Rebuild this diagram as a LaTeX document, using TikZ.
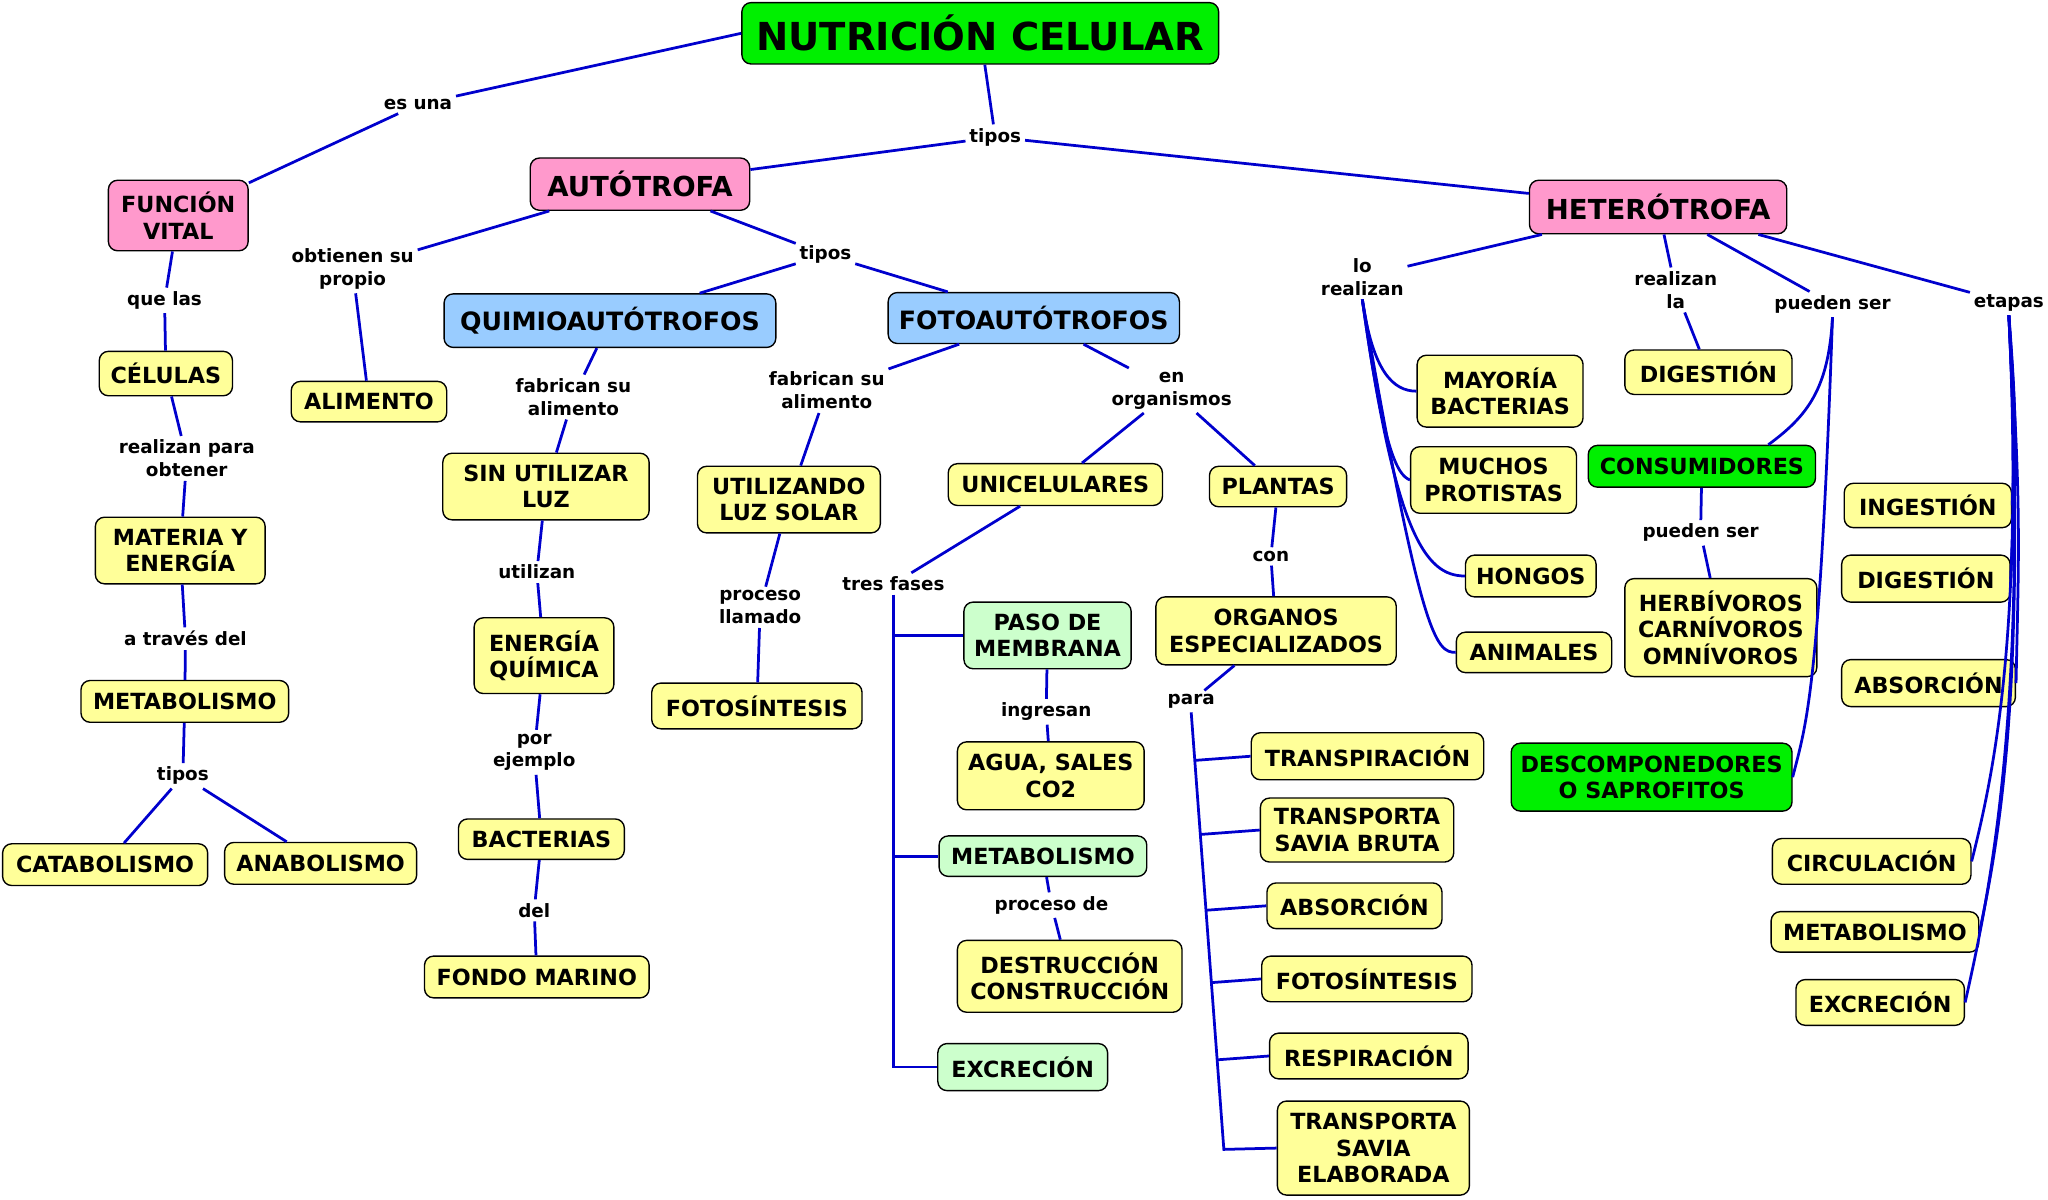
\documentclass[tikz,border=0pt]{standalone}
\usepackage{fontspec}
\setmainfont{DejaVu Sans}
\usetikzlibrary{calc}
\definecolor{mapblue}{RGB}{0,0,205}
\definecolor{myyellow}{RGB}{255,255,153}
\definecolor{mypink}{RGB}{255,153,204}
\definecolor{mysky}{RGB}{153,204,255}
\definecolor{mymint}{RGB}{204,255,204}
\definecolor{mygreen}{RGB}{0,240,0}
\tikzset{
  box/.style={draw=black,line width=0.6pt,rounded corners=4pt,align=center,inner sep=0pt,
    font=\bfseries\fontsize{9.7}{11.5}\selectfont},
  ybox/.style={box,fill=myyellow},
  pbox/.style={box,fill=mypink,font=\bfseries\fontsize{12}{14}\selectfont},
  bbox/.style={box,fill=mysky,font=\bfseries\fontsize{11}{13}\selectfont},
  mbox/.style={box,fill=mymint},
  gbox/.style={box,fill=mygreen},
  sz/.style 2 args={minimum width=#1*0.02cm,minimum height=#2*0.02cm},
  lbl/.style={inner sep=1.5pt,align=center,font=\bfseries\fontsize{8}{10}\selectfont},
  link/.style={draw=mapblue,line width=1.2pt}
}
\begin{document}
\begin{tikzpicture}[x=0.02cm,y=-0.02cm]
    \useasboundingbox (0,0) rectangle (1568,918);

    % Main concept
    \node[gbox,sz={365}{47},font=\bfseries\fontsize{16.8}{19}\selectfont] (title) at (750.5,25.5) {NUTRICIÓN CELULAR};
    \node[pbox,sz={107}{54},font=\bfseries\fontsize{9.7}{11.5}\selectfont] (funcion) at (136.5,165) {FUNCIÓN\\VITAL};
    \node[pbox,sz={168}{40}] (autotrofa) at (490,141) {AUTÓTROFA};
    \node[pbox,sz={197}{41}] (heterotrofa) at (1269.5,158.5) {HETERÓTROFA};
    \node[bbox,sz={254}{41}] (quimio) at (467,245.5) {QUIMIOAUTÓTROFOS};
    \node[bbox,sz={223}{39}] (foto) at (791.5,243.5) {FOTOAUTÓTROFOS};

    % Left branch
    \node[ybox,sz={102}{34}] (celulas) at (127,286) {CÉLULAS};
    \node[ybox,sz={119}{31}] (alimento) at (282.5,307.5) {ALIMENTO};
    \node[ybox,sz={130}{51}] (materia) at (138,421.5) {MATERIA Y\\ENERGÍA};
    \node[ybox,sz={159}{32}] (metab1) at (141.5,537) {METABOLISMO};
    \node[ybox,sz={157}{32}] (catab) at (80.5,662) {CATABOLISMO};
    \node[ybox,sz={147}{32}] (anab) at (245.5,661) {ANABOLISMO};

    % Quimioautotrofos
    \node[ybox,sz={158}{51}] (sinutil) at (418,372.5) {SIN UTILIZAR\\LUZ};
    \node[ybox,sz={107}{58}] (energia) at (416.5,502) {ENERGÍA\\QUÍMICA};
    \node[ybox,sz={127}{31}] (bacterias) at (414.5,642.5) {BACTERIAS};
    \node[ybox,sz={172}{32}] (fondo) at (411,748) {FONDO MARINO};

    % Fotoautotrofos
    \node[ybox,sz={140}{51}] (utilizando) at (604,382.5) {UTILIZANDO\\LUZ SOLAR};
    \node[ybox,sz={161}{35}] (fotosint1) at (579.5,540.5) {FOTOSÍNTESIS};
    \node[ybox,sz={164}{32}] (unicel) at (808,371) {UNICELULARES};
    \node[ybox,sz={105}{31}] (plantas) at (978.5,372.5) {PLANTAS};
    \node[mbox,sz={128}{51}] (paso) at (802,486.5) {PASO DE\\MEMBRANA};
    \node[ybox,sz={143}{52}] (agua) at (804.5,594) {AGUA, SALES\\CO2};
    \node[mbox,sz={159}{31}] (metab2) at (798.5,655.5) {METABOLISMO};
    \node[ybox,sz={172}{55}] (destr) at (819,747.5) {DESTRUCCIÓN\\CONSTRUCCIÓN};
    \node[mbox,sz={130}{36}] (excr1) at (783,817) {EXCRECIÓN};
    \node[ybox,sz={184}{52}] (organos) at (977,483) {ORGANOS\\ESPECIALIZADOS};
    \node[ybox,sz={178}{36}] (transpir) at (1047,579) {TRANSPIRACIÓN};
    \node[ybox,sz={148}{49}] (savbruta) at (1039,635.5) {TRANSPORTA\\SAVIA BRUTA};
    \node[ybox,sz={134}{35}] (absorc1) at (1037,693.5) {ABSORCIÓN};
    \node[ybox,sz={161}{35}] (fotosint2) at (1046.5,749.5) {FOTOSÍNTESIS};
    \node[ybox,sz={152}{35}] (respir) at (1048,808.5) {RESPIRACIÓN};
    \node[ybox,sz={147}{72}] (savelab) at (1051.5,879) {TRANSPORTA\\SAVIA\\ELABORADA};

    % Heterotrofa
    \node[ybox,sz={127}{55}] (mayoria) at (1148.5,299.5) {MAYORÍA\\BACTERIAS};
    \node[ybox,sz={127}{51}] (muchos) at (1143.5,367.5) {MUCHOS\\PROTISTAS};
    \node[ybox,sz={100}{32}] (hongos) at (1172,441) {HONGOS};
    \node[ybox,sz={119}{31}] (animales) at (1174.5,499.5) {ANIMALES};
    \node[ybox,sz={128}{34}] (digest1) at (1308,285) {DIGESTIÓN};
    \node[gbox,sz={174}{32}] (consum) at (1303,357) {CONSUMIDORES};
    \node[ybox,sz={147}{75}] (herb) at (1317.5,480.5) {HERBÍVOROS\\CARNÍVOROS\\OMNÍVOROS};
    \node[gbox,sz={215}{52}] (descomp) at (1264.5,595) {DESCOMPONEDORES\\O SAPROFITOS};
    \node[ybox,sz={128}{34}] (ingest) at (1476,387) {INGESTIÓN};
    \node[ybox,sz={129}{36}] (digest2) at (1474.5,443) {DIGESTIÓN};
    \node[ybox,sz={133}{36}] (absorc2) at (1476.5,523) {ABSORCIÓN};
    \node[ybox,sz={152}{35}] (circul) at (1433,659.5) {CIRCULACIÓN};
    \node[ybox,sz={159}{31}] (metab3) at (1435.5,713.5) {METABOLISMO};
    \node[ybox,sz={129}{35}] (excr2) at (1439.5,767.5) {EXCRECIÓN};

    % Linking words
    \node[lbl] (esuna) at (320,80) {es una};
    \node[lbl] (tipos1) at (762,105) {tipos};
    \node[lbl] (quelas) at (126,230) {que las};
    \node[lbl] (realizan) at (143,351) {realizan para\\obtener};
    \node[lbl] (atraves) at (142,489) {a través del};
    \node[lbl] (tipos2) at (140,594) {tipos};
    \node[lbl] (obtienen) at (270,206) {obtienen su\\propio};
    \node[lbl] (tipos3) at (632,195) {tipos};
    \node[lbl] (fabrican1) at (439,304) {fabrican su\\alimento};
    \node[lbl] (utilizan) at (411,438) {utilizan};
    \node[lbl] (porejemplo) at (409,576) {por\\ejemplo};
    \node[lbl] (del) at (409,697) {del};
    \node[lbl] (fabrican2) at (633,299) {fabrican su\\alimento};
    \node[lbl] (procesoll) at (582,465) {proceso\\llamado};
    \node[lbl] (enorg) at (897,299) {en\\organismos};
    \node[lbl] (tresfases) at (684,447) {tres fases};
    \node[lbl] (ingresan) at (801,545) {ingresan};
    \node[lbl] (procesode) at (805,693) {proceso de};
    \node[lbl] (con) at (973,426) {con};
    \node[lbl] (para) at (912,537) {para};
    \node[lbl] (lorealizan) at (1043,212) {lo\\realizan};
    \node[lbl] (realizanla) at (1283,222) {realizan\\la};
    \node[lbl] (puedenser1) at (1403,233) {pueden ser};
    \node[lbl] (etapas) at (1538,232) {etapas};
    \node[lbl] (puedenser2) at (1302,408) {pueden ser};

    % Connectors, top levels
    \draw[link] (title.west) -- (esuna) -- (funcion);
    \draw[link] (title) -- (tipos1);
    \draw[link] (tipos1) -- (autotrofa);
    \draw[link] (tipos1) -- (heterotrofa);

    % Funcion vital
    \draw[link] (funcion) -- (quelas) -- (celulas) -- (realizan) -- (materia) -- (atraves) -- (metab1) -- (tipos2);
    \draw[link] (tipos2) -- (catab);
    \draw[link] (tipos2) -- (anab);

    % Autotrofa
    \draw[link] (autotrofa) -- (obtienen) -- (alimento);
    \draw[link] (autotrofa) -- (tipos3);
    \draw[link] (tipos3) -- (quimio);
    \draw[link] (tipos3) -- (foto);
    \draw[link] (quimio) -- (fabrican1) -- (sinutil) -- (utilizan) -- (energia) -- (porejemplo) -- (bacterias) -- (del) -- (fondo);
    \draw[link] (foto) -- (fabrican2) -- (utilizando) -- (procesoll) -- (fotosint1);
    \draw[link] (foto) -- (enorg);
    \draw[link] (enorg) -- (unicel);
    \draw[link] (enorg) -- (plantas);
    \draw[link] (unicel) -- (tresfases);
    \draw[link] (tresfases.south) |- (paso.west);
    \draw[link] (tresfases.south) |- (metab2.west);
    \draw[link] (tresfases.south) |- (excr1.west);
    \draw[link] (paso) -- (ingresan) -- (agua);
    \draw[link] (metab2) -- (procesode) -- (destr);
    \draw[link] (plantas) -- (con) -- (organos) -- (para);

    % Plant organs
    \coordinate (paraend) at (937,880);
    \draw[link] (para.south) -- (paraend) -- (savelab.west);
    \foreach \n in {transpir,savbruta,absorc1,fotosint2,respir}
      \draw[link] (\n.west) -- ($(para.south)!(\n.west)!(paraend)$);

    % Heterotrofa
    \draw[link] (heterotrofa) -- (lorealizan);
    \draw[link] (lorealizan.south) .. controls +(8,55) and +(-18,0) .. (mayoria.west);
    \draw[link] (lorealizan.south) .. controls +(16,115) and +(-10,-4) .. (muchos.west);
    \draw[link] (lorealizan.south) .. controls +(25,180) and +(-30,0) .. (hongos.west);
    \draw[link] (lorealizan.south) .. controls +(45,260) and +(-15,0) .. (animales.west);
    \draw[link] (heterotrofa) -- (realizanla) -- (digest1);
    \draw[link] (heterotrofa) -- (puedenser1);
    \draw[link] (puedenser1.south) .. controls +(-3,55) and +(30,-22) .. (consum.18);
    \draw[link] (puedenser1.south) .. controls +(-10,290) and +(10,-40) .. (descomp.east);
    \draw[link] (consum) -- (puedenser2) -- (herb);
    \draw[link] (heterotrofa) -- (etapas);
    \draw[link] (etapas.south) .. controls +(3,70) and +(3,-60) .. (ingest.east);
    \draw[link] (etapas.south) .. controls +(8,100) and +(3,-80) .. (digest2.east);
    \draw[link] (etapas.south) .. controls +(10,150) and +(2,-100) .. (absorc2.east);
    \draw[link] (etapas.south) .. controls +(12,250) and +(15,-60) .. (circul.east);
    \draw[link] (etapas.south) .. controls +(14,280) and +(15,-70) .. (metab3.east);
    \draw[link] (etapas.south) .. controls +(16,300) and +(18,-80) .. (excr2.east);
\end{tikzpicture}
\end{document}
